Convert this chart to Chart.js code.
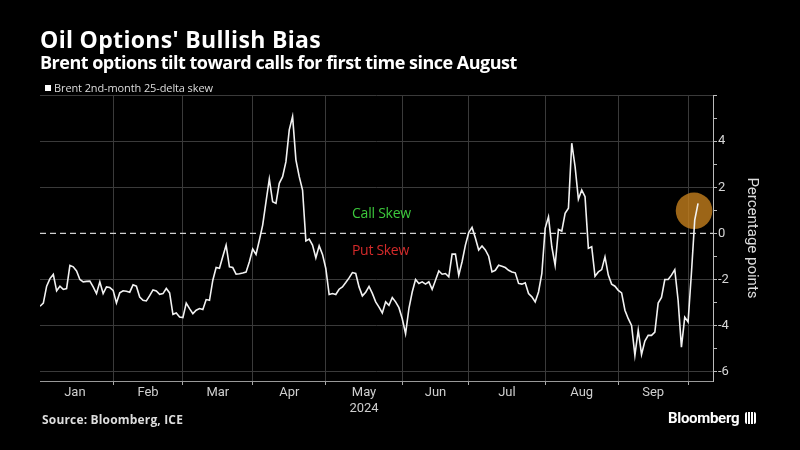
<!DOCTYPE html>
<html><head><meta charset="utf-8">
<script src="https://cdn.jsdelivr.net/npm/chart.js@4/dist/chart.umd.min.js"></script>
<style>
html,body{margin:0;padding:0;background:#000;}
#wrap{position:relative;width:800px;height:450px;background:#000;overflow:hidden;font-family:"Open Sans",Roboto,sans-serif;}
#c{position:absolute;left:0;top:0;}
.t{position:absolute;white-space:nowrap;line-height:1;}
#logo{position:absolute;left:745px;top:412px;width:11px;height:12px;background:#fff;border-radius:2px;
 background-image:linear-gradient(90deg,#fff 0,#fff 2px,#000 2px,#000 3px,#fff 3px,#fff 5px,#000 5px,#000 6px,#fff 6px,#fff 8px,#000 8px,#000 9px,#fff 9px);}
</style></head><body>
<div id="wrap">
<canvas id="c" width="800" height="450"></canvas>
<div class="t" data-w="281" style="left:40px;top:27.5px;font-size:23px;font-weight:700;color:#fff;">Oil Options' Bullish Bias</div>
<div class="t" data-w="477" style="left:40px;top:53px;font-size:18px;font-weight:700;color:#fff;">Brent options tilt toward calls for first time since August</div>
<div style="position:absolute;left:45px;top:85px;width:6px;height:6px;background:#fff;"></div>
<div class="t" data-w="159" style="left:54px;top:82px;font-size:11px;color:#ddd;">Brent 2nd-month 25-delta skew</div>
<div class="t" data-w="59" style="left:352px;top:206px;font-size:14px;color:#3cc83c;">Call Skew</div>
<div class="t" data-w="57" style="left:352px;top:243px;font-size:14px;color:#d42a2a;">Put Skew</div>
<div class="t" data-w="141" style="left:42px;top:414px;font-size:12px;font-weight:700;color:#ddd;">Source: Bloomberg, ICE</div>
<div class="t" style="left:668px;top:411px;font-size:15px;font-weight:700;color:#fff;letter-spacing:-0.3px;font-family:Roboto;">Bloomberg</div>
<div id="logo"></div>
</div>
<script>
// trading-day index (weekdays since 1 Jan 2024) of the first weekday of each month, Jan..Oct
const monthStarts = [0, 23, 44, 65, 87, 110, 130, 153, 175, 196];
const monthLabels = ['Jan', 'Feb', 'Mar', 'Apr', 'May', 'Jun', 'Jul', 'Aug', 'Sep'];
const yearLabel = '2024';
const firstDay = 1; // 2 Jan 2024
// Brent 2nd-month 25-delta skew, percentage points, one value per trading day
const skew = [
 -3.16,-3.02,-2.29,-1.96,-1.78,-2.49,-2.29,-2.43,-2.39,-1.39,
 -1.45,-1.63,-2.0,-2.1,-2.08,-2.07,-2.32,-2.61,-2.1,-2.61,
 -2.32,-2.35,-2.47,-3.02,-2.58,-2.49,-2.51,-2.55,-2.23,-2.29,
 -2.76,-2.9,-2.93,-2.7,-2.45,-2.5,-2.64,-2.61,-2.39,-2.58,
 -3.51,-3.45,-3.63,-3.65,-3.02,-3.26,-3.48,-3.33,-3.26,-3.3,
 -2.87,-2.9,-2.03,-1.48,-1.51,-1.0,-0.51,-1.45,-1.48,-1.77,
 -1.75,-1.72,-1.68,-1.23,-0.68,-0.91,-0.3,0.36,1.37,2.36,
 1.37,1.3,2.17,2.46,3.11,4.49,5.07,3.19,2.46,1.88,
 -0.33,-0.25,-0.51,-1.06,-0.54,-0.91,-1.52,-2.65,-2.61,-2.65,
 -2.42,-2.32,-2.13,-1.93,-1.7,-1.74,-2.32,-2.71,-2.55,-2.3,
 -2.6,-2.97,-3.2,-3.45,-2.97,-3.12,-2.78,-2.97,-3.22,-3.7,
 -4.35,-3.26,-2.54,-2.0,-2.17,-2.1,-2.2,-2.1,-2.43,-2.03,
 -1.63,-1.77,-1.74,-1.88,-0.9,-0.9,-1.81,-1.23,-0.51,0.03,
 0.26,-0.2,-0.72,-0.55,-0.72,-0.99,-1.67,-1.6,-1.38,-1.42,
 -1.48,-1.6,-1.67,-1.71,-2.17,-2.2,-2.14,-2.61,-2.75,-2.97,
 -2.54,-1.74,0.22,0.72,-0.58,-1.38,0.17,0.1,0.87,1.09,
 3.91,2.9,1.48,1.88,1.59,-0.65,-0.58,-1.86,-1.67,-1.57,
 -1.02,-1.81,-2.2,-2.29,-2.47,-2.58,-3.33,-3.7,-3.99,-5.29,
 -4.2,-5.25,-4.67,-4.42,-4.42,-4.28,-3.02,-2.78,-2.0,-2.0,
 -1.81,-1.57,-2.9,-4.93,-3.63,-3.84,-1.74,0.58,1.3
];
const yTickValues = [-6,-5,-4,-3,-2,-1,0,1,2,3,4,5,6];
const highlightDay = 197.8;
const highlightValue = 0.98;
const xMin = 1, xMax = 203.5, yMin = -6.4, yMax = 6;

// fit text widths to the reference via letter-spacing
document.querySelectorAll('[data-w]').forEach(el => {
  const target = +el.dataset.w, n = el.textContent.length;
  const nat = el.getBoundingClientRect().width;
  el.style.letterSpacing = ((target - nat) / n).toFixed(2) + 'px';
});

const skewPoints = skew.map((v, i) => ({x: firstDay + i, y: v}));
const monthMids = monthLabels.map((m, i) => (monthStarts[i] + monthStarts[i + 1]) / 2);
const isBoundary = v => monthStarts.includes(v);
const GRID = '#3a3a3a';

new Chart(document.getElementById('c'), {
  type: 'line',
  data: {
    datasets: [
      {data: skewPoints, borderColor: '#f2f2f2', borderWidth: 1.6, pointRadius: 0, tension: 0},
      {data: [{x: xMin, y: 0}, {x: xMax, y: 0}], borderColor: '#d0d0d0', borderWidth: 1.3, borderDash: [6, 4], pointRadius: 0},
      {type: 'scatter', data: [{x: highlightDay, y: highlightValue}], pointRadius: 18.3, pointHoverRadius: 18.3,
       backgroundColor: 'rgba(200,130,30,0.78)', borderWidth: 0}
    ]
  },
  options: {
    responsive: false, animation: false, devicePixelRatio: 1,
    layout: {padding: {left: 40, top: 95, right: 39, bottom: 0}},
    plugins: {legend: {display: false}, tooltip: {enabled: false}, title: {display: false}},
    scales: {
      x: {
        type: 'linear', min: xMin, max: xMax,
        afterFit: s => { s.height = 69; },
        afterBuildTicks: s => { s.ticks = monthStarts.slice(1).concat(monthMids).sort((a, b) => a - b).map(v => ({value: v})); },
        grid: {color: c => isBoundary(c.tick.value) ? GRID : 'rgba(0,0,0,0)', tickColor: c => isBoundary(c.tick.value) ? '#aaa' : 'rgba(0,0,0,0)', tickLength: 4, drawOnChartArea: true},
        border: {display: true, color: '#999', width: 1},
        ticks: {
          autoSkip: false, maxRotation: 0, padding: 0, color: '#cfcfcf',
          font: {family: 'Roboto', size: 13, lineHeight: 1.2},
          callback: v => { const k = monthMids.indexOf(v); if (k < 0) return ''; return monthLabels[k] === 'May' ? ['May', yearLabel] : monthLabels[k]; }
        }
      },
      y: {
        position: 'right', min: yMin, max: yMax,
        afterFit: s => { s.width = 48; },
        afterBuildTicks: s => { s.ticks = yTickValues.map(v => ({value: v})); },
        grid: {color: c => (c.tick.value % 2 === 0 && c.tick.value !== 0) ? GRID : 'rgba(0,0,0,0)', tickColor: '#bbb', tickLength: 4},
        border: {display: true, color: '#bbb', width: 1},
        ticks: {autoSkip: false, padding: 1, color: '#d6d6d6', font: {family: 'Roboto', size: 13},
          callback: v => (v % 2 === 0 && v !== 6) ? String(v) : ''},
        title: {display: true, text: 'Percentage points', color: '#dcdcdc', font: {family: 'Roboto', size: 15}, padding: {top: 0, bottom: 0}}
      }
    }
  }
});
</script>
</body></html>
